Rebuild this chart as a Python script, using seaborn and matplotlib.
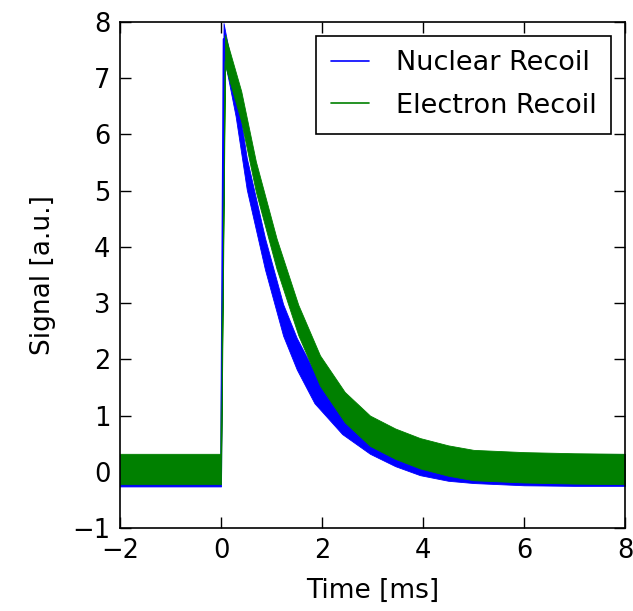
import numpy as np
import pandas as pd
import seaborn as sns
import matplotlib
matplotlib.use("Agg")
import matplotlib.pyplot as plt

# trace centres (time in ms, signal in a.u.)
nr_time = [-2.0, -1.0, 0.0, 0.05, 0.29, 0.51, 0.87, 1.23, 1.5, 1.85, 2.4, 2.95, 3.45, 3.94, 4.5, 5.0, 6.0, 7.0, 8.0]
nr_signal = [0.02, 0.02, 0.02, 7.7, 6.6, 5.3, 3.88, 2.7, 2.1, 1.5, 0.95, 0.6, 0.38, 0.22, 0.12, 0.08, 0.04, 0.03, 0.03]
er_time = [-2.0, -1.0, 0.0, 0.08, 0.40, 0.69, 1.10, 1.53, 1.96, 2.45, 2.95, 3.45, 3.94, 4.5, 5.0, 6.0, 7.0, 8.0]
er_signal = [0.05, 0.05, 0.05, 7.5, 6.5, 5.25, 3.88, 2.7, 1.8, 1.15, 0.73, 0.5, 0.33, 0.2, 0.12, 0.08, 0.06, 0.05]
# half width of the noise band around each trace
nr_noise = 0.28
er_noise = 0.27

labels = ["Nuclear Recoil", "Electron Recoil"]
colors = {"Nuclear Recoil": "#0000ff", "Electron Recoil": "#008000"}

xticks = [-2, 0, 2, 4, 6, 8]
yticks = [-1, 0, 1, 2, 3, 4, 5, 6, 7, 8]

# long table: lower and upper edge of the noise band at each time
rows = []
for name, t, s, n in [(labels[0], nr_time, nr_signal, nr_noise),
                      (labels[1], er_time, er_signal, er_noise)]:
    for ti, si in zip(t, s):
        rows.append({"time": ti, "signal": si - n, "trace": name})
        rows.append({"time": ti, "signal": si + n, "trace": name})
data = pd.DataFrame(rows)

sns.set_style("ticks")
plt.rcParams["font.family"] = ["DejaVu Sans"]
plt.rcParams["text.color"] = "black"
plt.rcParams["axes.labelcolor"] = "black"
plt.rcParams["xtick.color"] = "black"
plt.rcParams["ytick.color"] = "black"
plt.rcParams["xtick.direction"] = "in"
plt.rcParams["ytick.direction"] = "in"

fig = plt.figure(figsize=(6.33, 6.11), dpi=100)
ax = fig.add_axes([0.1896, 0.1358, 0.7978, 0.8282])

sns.lineplot(data=data, x="time", y="signal", hue="trace", hue_order=labels,
             palette=colors, errorbar=("pi", 100), estimator="mean",
             err_kws={"alpha": 1.0, "linewidth": 0.6}, linewidth=1.2, ax=ax)

# keep the mean lines under the noise bands, so only the bands show
for ln in ax.lines:
    ln.set_zorder(0.5)

leg = ax.get_legend()
handles = leg.legend_handles
names = [t.get_text() for t in leg.get_texts()]
ax.legend(handles, names, loc="upper right", fontsize=19.5, frameon=True,
          fancybox=False, edgecolor="black", framealpha=1,
          handlelength=1.4, handletextpad=1.0, borderpad=0.55,
          labelspacing=0.6, borderaxespad=0.5)
ax.get_legend().get_frame().set_linewidth(1.2)

ax.set_xlim(-2, 8)
ax.set_ylim(-1, 8)
ax.set_xticks(xticks)
ax.set_yticks(yticks)
ax.tick_params(axis="both", which="major", labelsize=18.5, length=8,
               width=1, top=True, right=True, pad=7)
for sp in ax.spines.values():
    sp.set_linewidth(1.2)
    sp.set_color("black")
ax.set_xlabel("Time [ms]", fontsize=19, labelpad=10)
ax.set_ylabel("Signal [a.u.]", fontsize=19, labelpad=12)

fig.savefig("out.png", dpi=100)
